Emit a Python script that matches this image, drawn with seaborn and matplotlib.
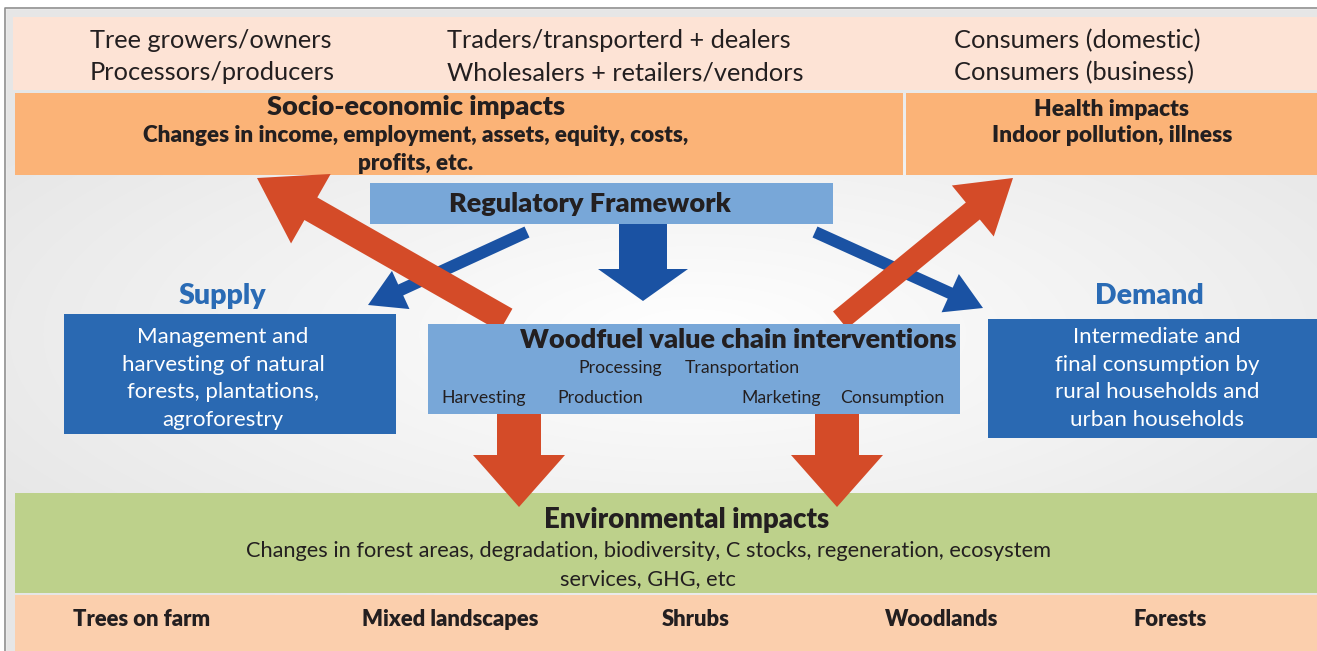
import numpy as np
import matplotlib
matplotlib.use("Agg")
import matplotlib.pyplot as plt
from matplotlib.patches import Rectangle, FancyArrow
import seaborn as sns

# ---------------- data (text content) ----------------
actors_col1 = ["Tree growers/owners", "Processors/producers"]
actors_col2 = ["Traders/transporterd + dealers", "Wholesalers + retailers/vendors"]
actors_col3 = ["Consumers (domestic)", "Consumers (business)"]
socio_title = "Socio-economic impacts"
socio_lines = ["Changes in income, employment, assets, equity, costs,", "profits, etc."]
health_title = "Health impacts"
health_lines = ["Indoor pollution, illness"]
regulatory = "Regulatory Framework"
supply_title = "Supply"
supply_lines = ["Management and", "harvesting of natural", "forests, plantations,", "agroforestry"]
demand_title = "Demand"
demand_lines = ["Intermediate and", "final consumption by", "rural households and", "urban households"]
chain_title = "Woodfuel value chain interventions"
chain_steps_top = ["Processing", "Transportation"]
chain_steps_bottom = ["Harvesting", "Production", "Marketing", "Consumption"]
env_title = "Environmental impacts"
env_lines = ["Changes in forest areas, degradation, biodiversity, C stocks, regeneration, ecosystem",
             "services, GHG, etc"]
landscapes = ["Trees on farm", "Mixed landscapes", "Shrubs", "Woodlands", "Forests"]

# ---------------- style ----------------
sns.set_theme(style="white")
FONT = ["Lato", "DejaVu Sans"]
plt.rcParams["font.family"] = FONT

C_PEACH_TOP = "#fde3d5"
C_ORANGE = "#fbb377"
C_LBLUE = "#78a7d8"
C_DBLUE = "#2a69b2"
C_GREEN = "#bdd18b"
C_PEACH_BOT = "#fbcfad"
C_ARROW_OR = "#d44b28"
C_ARROW_BL = "#1a52a3"
C_TEXT = "#231f20"
C_TITLE_BL = "#2a6bb5"

W, H = 1317, 651
fig = plt.figure(figsize=(W / 100, H / 100), dpi=100)
ax = fig.add_axes([0, 0, 1, 1])
ax.set_xlim(0, W)
ax.set_ylim(H, 0)
ax.axis("off")

# background gradient (light grey, lighter towards centre)
yy, xx = np.mgrid[0:H, 0:W]
r = np.sqrt(((xx - 690) / 700.0) ** 2 + ((yy - 330) / 260.0) ** 2)
bg = np.clip(1.0 - 0.08 * np.clip(r, 0, 1.2), 0.9, 1.0)
ax.imshow(np.dstack([bg, bg, bg]), extent=(5, W, H, 8), zorder=0, aspect="auto")
ax.add_patch(Rectangle((0, 0), W, 8, color="white", zorder=0.5))
ax.add_patch(Rectangle((0, 0), 5, H, color="white", zorder=0.5))
ax.plot([5, 5, W], [H, 8, 8], color="#8f8f8f", lw=1.2, zorder=1)


def box(x0, y0, x1, y1, color, z=2):
    ax.add_patch(Rectangle((x0, y0), x1 - x0, y1 - y0, facecolor=color,
                           edgecolor="none", zorder=z))


# bands
box(13, 17, W, 90, C_PEACH_TOP)
box(15, 93, 903, 175, C_ORANGE)
box(906, 93, W, 175, C_ORANGE)
box(15, 493, W, 593, C_GREEN)
box(15, 595, W, H, C_PEACH_BOT)

# boxes
box(370, 183, 833, 224, C_LBLUE)
box(64, 314, 396, 434, C_DBLUE)
box(428, 324, 960, 414, C_LBLUE, z=4)
box(988, 319, W, 438, C_DBLUE)


def arrow(x0, y0, x1, y1, width, hw, hl, color, z):
    ax.add_patch(FancyArrow(x0, y0, x1 - x0, y1 - y0, width=width,
                            head_width=hw, head_length=hl,
                            length_includes_head=True, color=color,
                            lw=0, zorder=z))


# blue arrows (regulatory framework)
arrow(643, 224, 643, 301, 48, 90, 32, C_ARROW_BL, 3)
arrow(527, 232, 368, 305, 12, 42, 36, C_ARROW_BL, 3)
arrow(815, 232, 983, 308, 12, 42, 36, C_ARROW_BL, 3)
# orange arrows (impacts)
arrow(506, 320, 257, 178, 26, 80, 62, C_ARROW_OR, 3.5)
arrow(840, 320, 1013, 178, 22, 66, 52, C_ARROW_OR, 3.5)
arrow(519, 414, 519, 507, 44, 92, 52, C_ARROW_OR, 3.5)
arrow(837, 414, 837, 507, 44, 92, 52, C_ARROW_OR, 3.5)


def txt(x, y, s, size, weight="normal", color=C_TEXT, ha="center", z=6):
    ax.text(x, y, s, fontsize=size, fontweight=weight, color=color,
            ha=ha, va="center", zorder=z)


B = "heavy"
# top band actors
for i, s in enumerate(actors_col1):
    txt(90, 41 + 32 * i, s, 18.3, ha="left")
for i, s in enumerate(actors_col2):
    txt(447, 41 + 32 * i, s, 18.3, ha="left")
for i, s in enumerate(actors_col3):
    txt(954, 41 + 32 * i, s, 18.3, ha="left")

# socio-economic / health
txt(416, 107, socio_title, 19.5, B)
for i, s in enumerate(socio_lines):
    txt(416, 136 + 27 * i, s, 16.2, B)
txt(1112, 109, health_title, 16.4, B)
for i, s in enumerate(health_lines):
    txt(1112, 136 + 27 * i, s, 16.4, B)

# regulatory framework
txt(590, 204, regulatory, 19.5, B)

# supply / demand
txt(222, 296, supply_title, 20.5, B, color=C_TITLE_BL)
for i, s in enumerate(supply_lines):
    txt(223, 337 + 27.7 * i, s, 16, color="white")
txt(1149, 296, demand_title, 20.5, B, color=C_TITLE_BL)
for i, s in enumerate(demand_lines):
    txt(1157, 337 + 27.7 * i, s, 16, color="white")

# value chain box
txt(738, 340, chain_title, 19.5, B)
for x, s in zip([620, 742], chain_steps_top):
    txt(x, 368, s, 12.7)
for x, s in zip([484, 600, 781, 892], chain_steps_bottom):
    txt(x, 398, s, 12.7)

# environmental impacts
txt(687, 520, env_title, 19.8, B)
for i, s in enumerate(env_lines):
    txt(648, 551 + 28 * i, s, 15.7)

# landscapes
for x, s in zip([142, 450, 696, 942, 1170], landscapes):
    txt(x, 619, s, 15.8, B)

fig.savefig("out.png", dpi=100)
